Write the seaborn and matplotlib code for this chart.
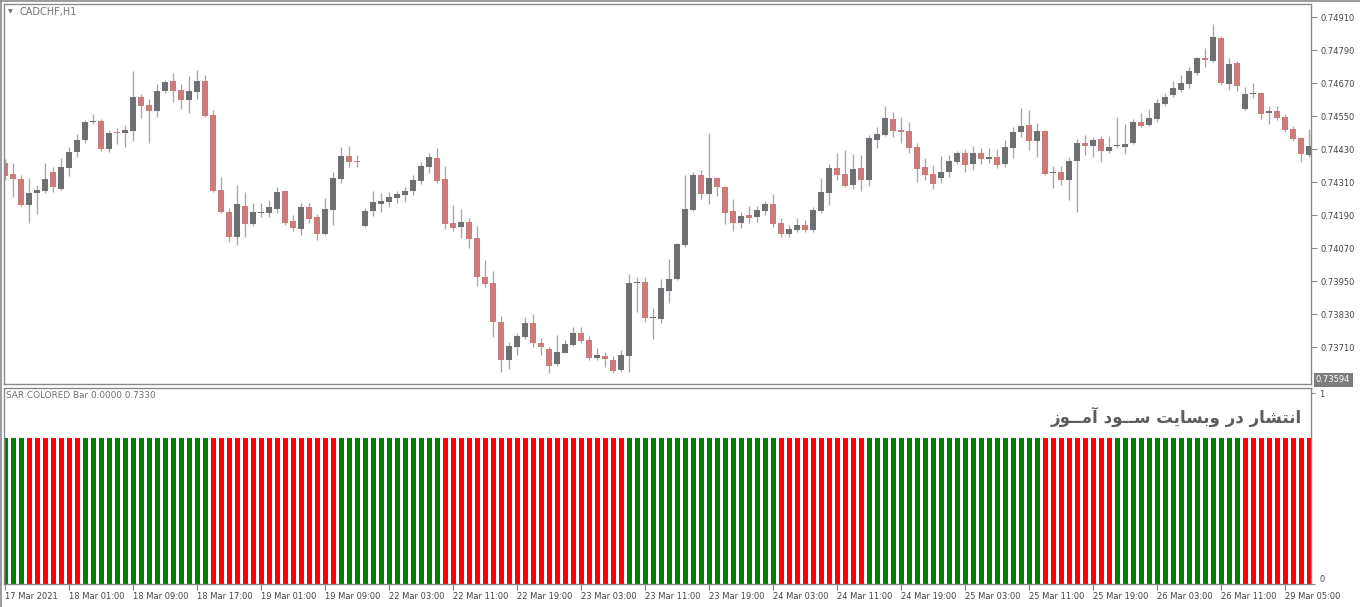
import matplotlib
matplotlib.use("Agg")
import matplotlib.pyplot as plt
from matplotlib.lines import Line2D
from matplotlib import font_manager
import numpy as np
import pandas as pd
import seaborn as sns

# ---------------- data ----------------
opens = [0.74380, 0.74340, 0.74322, 0.74229, 0.74270, 0.74280, 0.74348, 0.74285, 0.74363, 0.74421,
         0.74464, 0.74528, 0.74533, 0.74432, 0.74492, 0.74488, 0.74497, 0.74620, 0.74591, 0.74571,
         0.74643, 0.74678, 0.74645, 0.74610, 0.74640, 0.74677, 0.74555, 0.74282, 0.74201, 0.74112,
         0.74225, 0.74159, 0.74199, 0.74200, 0.74214, 0.74279, 0.74169, 0.74141, 0.74220, 0.74184,
         0.74123, 0.74209, 0.74322, 0.74407, 0.74388, 0.74152, 0.74206, 0.74231, 0.74237, 0.74254,
         0.74265, 0.74279, 0.74315, 0.74367, 0.74399, 0.74322, 0.74162, 0.74149, 0.74166, 0.74108,
         0.73966, 0.73943, 0.73803, 0.73664, 0.73710, 0.73749, 0.73799, 0.73726, 0.73704, 0.73648,
         0.73691, 0.73720, 0.73761, 0.73737, 0.73670, 0.73679, 0.73663, 0.73628, 0.73680, 0.73943,
         0.73947, 0.73815, 0.73814, 0.73916, 0.73960, 0.74081, 0.74209, 0.74337, 0.74269, 0.74326,
         0.74292, 0.74206, 0.74161, 0.74191, 0.74183, 0.74207, 0.74231, 0.74162, 0.74122, 0.74137,
         0.74154, 0.74137, 0.74206, 0.74271, 0.74362, 0.74340, 0.74300, 0.74362, 0.74319, 0.74464,
         0.74483, 0.74540, 0.74500, 0.74497, 0.74439, 0.74366, 0.74340, 0.74326, 0.74348, 0.74385,
         0.74417, 0.74377, 0.74418, 0.74394, 0.74403, 0.74377, 0.74436, 0.74493, 0.74519, 0.74460,
         0.74497, 0.74345, 0.74347, 0.74319, 0.74388, 0.74452, 0.74442, 0.74468, 0.74425, 0.74441,
         0.74440, 0.74454, 0.74529, 0.74519, 0.74540, 0.74595, 0.74628, 0.74646, 0.74668, 0.74709,
         0.74762, 0.74752, 0.74836, 0.74668, 0.74745, 0.74578, 0.74631, 0.74635, 0.74563, 0.74569,
         0.74548, 0.74505, 0.74472, 0.74409]
highs = [0.74394, 0.74379, 0.74336, 0.74326, 0.74300, 0.74381, 0.74365, 0.74400, 0.74437, 0.74486,
         0.74537, 0.74557, 0.74541, 0.74500, 0.74506, 0.74519, 0.74715, 0.74630, 0.74612, 0.74668,
         0.74682, 0.74707, 0.74668, 0.74697, 0.74718, 0.74700, 0.74573, 0.74331, 0.74216, 0.74300,
         0.74274, 0.74234, 0.74234, 0.74246, 0.74294, 0.74282, 0.74191, 0.74234, 0.74236, 0.74195,
         0.74254, 0.74348, 0.74440, 0.74442, 0.74409, 0.74216, 0.74280, 0.74272, 0.74274, 0.74280,
         0.74294, 0.74337, 0.74385, 0.74416, 0.74434, 0.74369, 0.74228, 0.74213, 0.74180, 0.74151,
         0.74028, 0.73989, 0.73824, 0.73730, 0.73761, 0.73822, 0.73832, 0.73745, 0.73712, 0.73755,
         0.73737, 0.73783, 0.73783, 0.73751, 0.73707, 0.73693, 0.73679, 0.73700, 0.73976, 0.73967,
         0.73965, 0.73852, 0.73959, 0.74031, 0.74091, 0.74338, 0.74349, 0.74355, 0.74488, 0.74331,
         0.74297, 0.74249, 0.74203, 0.74224, 0.74224, 0.74243, 0.74266, 0.74179, 0.74155, 0.74179,
         0.74173, 0.74221, 0.74326, 0.74377, 0.74416, 0.74428, 0.74412, 0.74409, 0.74482, 0.74512,
         0.74588, 0.74567, 0.74549, 0.74531, 0.74452, 0.74397, 0.74373, 0.74406, 0.74409, 0.74425,
         0.74430, 0.74442, 0.74434, 0.74434, 0.74431, 0.74464, 0.74512, 0.74579, 0.74573, 0.74525,
         0.74500, 0.74369, 0.74369, 0.74403, 0.74466, 0.74482, 0.74474, 0.74479, 0.74479, 0.74549,
         0.74522, 0.74539, 0.74563, 0.74576, 0.74612, 0.74636, 0.74678, 0.74700, 0.74731, 0.74766,
         0.74797, 0.74886, 0.74843, 0.74761, 0.74751, 0.74656, 0.74672, 0.74640, 0.74588, 0.74588,
         0.74559, 0.74515, 0.74476, 0.74503]
lows = [0.74319, 0.74256, 0.74224, 0.74161, 0.74195, 0.74272, 0.74276, 0.74282, 0.74334, 0.74403,
        0.74452, 0.74521, 0.74425, 0.74421, 0.74449, 0.74437, 0.74460, 0.74545, 0.74452, 0.74549,
        0.74636, 0.74603, 0.74576, 0.74561, 0.74612, 0.74549, 0.74275, 0.74199, 0.74094, 0.74082,
        0.74112, 0.74151, 0.74185, 0.74184, 0.74197, 0.74155, 0.74134, 0.74119, 0.74161, 0.74100,
        0.74119, 0.74155, 0.74309, 0.74367, 0.74365, 0.74148, 0.74188, 0.74203, 0.74221, 0.74234,
        0.74240, 0.74264, 0.74303, 0.74345, 0.74309, 0.74139, 0.74134, 0.74107, 0.74072, 0.73933,
        0.73931, 0.73749, 0.73622, 0.73630, 0.73682, 0.73739, 0.73710, 0.73682, 0.73618, 0.73642,
        0.73688, 0.73715, 0.73725, 0.73664, 0.73664, 0.73640, 0.73618, 0.73619, 0.73622, 0.73840,
        0.73803, 0.73740, 0.73800, 0.73872, 0.73955, 0.74076, 0.74206, 0.74248, 0.74231, 0.74260,
        0.74157, 0.74134, 0.74143, 0.74163, 0.74165, 0.74191, 0.74149, 0.74110, 0.74110, 0.74131,
        0.74131, 0.74131, 0.74197, 0.74228, 0.74319, 0.74292, 0.74285, 0.74280, 0.74297, 0.74436,
        0.74479, 0.74476, 0.74452, 0.74416, 0.74312, 0.74319, 0.74285, 0.74307, 0.74328, 0.74377,
        0.74348, 0.74355, 0.74377, 0.74379, 0.74361, 0.74367, 0.74400, 0.74476, 0.74428, 0.74401,
        0.74337, 0.74291, 0.74300, 0.74246, 0.74203, 0.74409, 0.74401, 0.74385, 0.74418, 0.74434,
        0.74413, 0.74449, 0.74510, 0.74515, 0.74531, 0.74588, 0.74621, 0.74640, 0.74654, 0.74700,
        0.74731, 0.74749, 0.74664, 0.74646, 0.74643, 0.74573, 0.74616, 0.74540, 0.74522, 0.74537,
        0.74494, 0.74461, 0.74385, 0.74403]
closes = [0.74334, 0.74321, 0.74229, 0.74270, 0.74282, 0.74322, 0.74292, 0.74366, 0.74420, 0.74464,
          0.74529, 0.74531, 0.74432, 0.74488, 0.74489, 0.74500, 0.74620, 0.74589, 0.74571, 0.74641,
          0.74674, 0.74643, 0.74610, 0.74641, 0.74677, 0.74552, 0.74280, 0.74203, 0.74112, 0.74230,
          0.74159, 0.74201, 0.74202, 0.74221, 0.74275, 0.74163, 0.74145, 0.74221, 0.74177, 0.74123,
          0.74213, 0.74327, 0.74407, 0.74385, 0.74385, 0.74206, 0.74237, 0.74243, 0.74257, 0.74269,
          0.74279, 0.74319, 0.74369, 0.74401, 0.74315, 0.74160, 0.74144, 0.74166, 0.74105, 0.73965,
          0.73942, 0.73803, 0.73664, 0.73714, 0.73751, 0.73799, 0.73725, 0.73710, 0.73642, 0.73693,
          0.73722, 0.73761, 0.73733, 0.73672, 0.73681, 0.73667, 0.73625, 0.73681, 0.73944, 0.73946,
          0.73816, 0.73817, 0.73925, 0.73957, 0.74086, 0.74213, 0.74337, 0.74267, 0.74325, 0.74294,
          0.74200, 0.74163, 0.74188, 0.74181, 0.74209, 0.74231, 0.74159, 0.74123, 0.74140, 0.74154,
          0.74137, 0.74209, 0.74275, 0.74362, 0.74338, 0.74298, 0.74357, 0.74319, 0.74471, 0.74486,
          0.74545, 0.74498, 0.74493, 0.74436, 0.74360, 0.74338, 0.74304, 0.74348, 0.74388, 0.74417,
          0.74374, 0.74417, 0.74394, 0.74403, 0.74374, 0.74437, 0.74493, 0.74515, 0.74460, 0.74497,
          0.74340, 0.74348, 0.74319, 0.74388, 0.74452, 0.74443, 0.74464, 0.74424, 0.74439, 0.74444,
          0.74449, 0.74529, 0.74515, 0.74543, 0.74600, 0.74619, 0.74652, 0.74670, 0.74715, 0.74762,
          0.74756, 0.74840, 0.74672, 0.74741, 0.74661, 0.74631, 0.74633, 0.74559, 0.74569, 0.74545,
          0.74500, 0.74468, 0.74413, 0.74442]

# SAR colored bar: trend per bar (G = up / green, R = down / red), read run by run
sar_trend = "".join([
    "GGG",
    "RRRRRRR",
    "GGGGGGGGGGGGGGGG",
    "RRRRRRRRRRRRRRRR",
    "GGGGGGGGGGGGG",
    "RRRRRRRRRRRRRRRRRRRRRRR",
    "GGGGGGGGGGGGGGGGGGG",
    "RRRRRRRRRRR",
    "GGGGGGGGGGGGGGGGGGGGGG",
    "RRRRRRRRR",
    "GGGGGGGGGGGGGGGG",
    "RRRRRRRRR",
])
sar_values = [0.765] * 164

price_ticks = [0.74910, 0.74790, 0.74670, 0.74550, 0.74430, 0.74310,
               0.74190, 0.74070, 0.73950, 0.73830, 0.73710]
time_tick_bars = [0, 8, 16, 24, 32, 40, 48, 56, 64, 72, 80, 88, 96, 104,
                  112, 120, 128, 136, 144, 152, 160]
time_labels = ["17 Mar 2021", "18 Mar 01:00", "18 Mar 09:00", "18 Mar 17:00",
               "19 Mar 01:00", "19 Mar 09:00", "22 Mar 03:00", "22 Mar 11:00",
               "22 Mar 19:00", "23 Mar 03:00", "23 Mar 11:00", "23 Mar 19:00",
               "24 Mar 03:00", "24 Mar 11:00", "24 Mar 19:00", "25 Mar 03:00",
               "25 Mar 11:00", "25 Mar 19:00", "26 Mar 03:00", "26 Mar 11:00",
               "29 Mar 05:00"]
symbol_label = "CADCHF,H1"
indicator_label = "SAR COLORED Bar 0.0000 0.7330"
last_price_label = "0.73594"
watermark_logical = "انتشار در وبسایت ســود آمــوز"
# same text in Arabic presentation forms, visual order (matplotlib has no RTL shaping)
watermark_visual = ("\uFEAF\uFEEE\u0640\u0640\uFEE3\uFE81 "
                    "\uFEA9\uFEEE\u0640\u0640\uFEB3 "
                    "\uFE96\uFEF3\uFE8E\uFEB4\uFE91\uFEED "
                    "\uFEAD\uFEA9 "
                    "\uFEAD\uFE8E\uFEB8\uFE98\uFEE7\uFE8D")

# ---------------- style ----------------
sns.set_theme(style="white")
plt.rcParams['font.family'] = ['DejaVu Sans']
installed = {f.name for f in font_manager.fontManager.ttflist}
if "Liberation Sans Narrow" in installed:
    TICK_FONT, TICK_SIZE = "Liberation Sans Narrow", 7.6
else:
    TICK_FONT, TICK_SIZE = "DejaVu Sans", 6.0

BULL = "#6d6f73"
BEAR = "#cc7a7a"
WICK = "#a9a9a9"
FRAME = "#8a8a8a"
TXT = "#454545"

W, H = 1360, 607
fig = plt.figure(figsize=(W / 100, H / 100), dpi=100)
fig.patch.set_facecolor("white")


def rect(x0, y0, x1, y1):
    return [x0 / W, 1 - y1 / H, (x1 - x0) / W, (y1 - y0) / H]


ax = fig.add_axes(rect(4, 4, 1311, 384))
ax2 = fig.add_axes(rect(4, 388, 1311, 584))

# ---------------- candles ----------------
df = pd.DataFrame({"open": opens, "high": highs, "low": lows, "close": closes})
df["bar"] = np.arange(len(df))
df["bull"] = df["close"] >= df["open"]
body_lo = np.minimum(df["open"], df["close"])
body_h = np.maximum(np.abs(df["close"] - df["open"]), 0.00004)

ax.vlines(df["bar"], df["low"], df["high"], color=WICK, lw=1.0, zorder=1)
ax.bar(df["bar"], body_h, bottom=body_lo, width=0.74,
       color=np.where(df["bull"], BULL, BEAR), edgecolor="none", zorder=2)

ax.set_xlim(-0.16, 163.21)
ax.set_ylim(0.735768, 0.749585)
ax.yaxis.tick_right()
ax.set_yticks(price_ticks)
ax.set_yticklabels([f"{p:.5f}" for p in price_ticks], family=TICK_FONT)
ax.set_xticks([])
ax.tick_params(axis="y", which="both", direction="out", length=4, width=0.8,
               color=FRAME, labelsize=TICK_SIZE, labelcolor=TXT, pad=3, right=True)
ax.set_xlabel("")
ax.set_ylabel("")

# ---------------- SAR colored bars ----------------
sdf = pd.DataFrame({"bar": np.arange(len(sar_values)), "value": sar_values,
                    "trend": ["up" if c == "G" else "down" for c in sar_trend]})
sns.barplot(data=sdf, x="bar", y="value", hue="trend",
            palette={"up": "#008000", "down": "#ff0000"}, dodge=False,
            width=0.64, saturation=1, errorbar=None, legend=False, ax=ax2)
for p in ax2.patches:
    p.set_edgecolor("none")
ax2.set_xlim(-0.16, 163.21)
ax2.set_ylim(0, 1.0268)
ax2.yaxis.tick_right()
ax2.set_yticks([0, 1])
ax2.set_yticklabels(["0", "1"], family=TICK_FONT)
for lbl in ax2.get_yticklabels():
    if lbl.get_text() == "0":
        lbl.set_va("bottom")
ax2.set_xticks(time_tick_bars)
ax2.set_xticklabels(time_labels, ha="left", family=TICK_FONT)
ax2.tick_params(axis="x", direction="out", length=4, width=0.8, color=FRAME,
                labelsize=TICK_SIZE, labelcolor=TXT, pad=2, bottom=True)
ax2.tick_params(axis="y", direction="out", length=3, width=0.8, color=FRAME,
                labelsize=TICK_SIZE, labelcolor=TXT, pad=3, right=True)
ax2.set_xlabel("")
ax2.set_ylabel("")

for a in (ax, ax2):
    a.set_facecolor("white")
    for s in a.spines.values():
        s.set_visible(True)
        s.set_color(FRAME)
        s.set_linewidth(1.0)

# ---------------- texts ----------------
fig.text(8 / W, 1 - 12 / H, "\u25BC", fontsize=4.5, color="#707070", va="center")
fig.text(20 / W, 1 - 12 / H, symbol_label, fontsize=7, color="#707070", va="center")
fig.text(6 / W, 1 - 396 / H, indicator_label, fontsize=6.4, color="#707070", va="center")
fig.text(1302 / W, 1 - 417 / H, watermark_visual, fontsize=12, fontweight="bold",
         color="#5c5c5c", ha="right", va="center", family=["DejaVu Sans"])
fig.text(1316 / W, 1 - 380 / H, last_price_label, fontsize=TICK_SIZE, color="white",
         va="center", ha="left", family=TICK_FONT,
         bbox=dict(boxstyle="square,pad=0.3", facecolor="#7d7d7d", edgecolor="none"))

# outer window frame
fig.add_artist(Line2D([1 / W, 1 / W], [0, 1], color=FRAME, lw=1.2))
fig.add_artist(Line2D([0, 1], [1 - 1 / H, 1 - 1 / H], color=FRAME, lw=1.2))

fig.savefig("out.png", dpi=100, facecolor="white")
